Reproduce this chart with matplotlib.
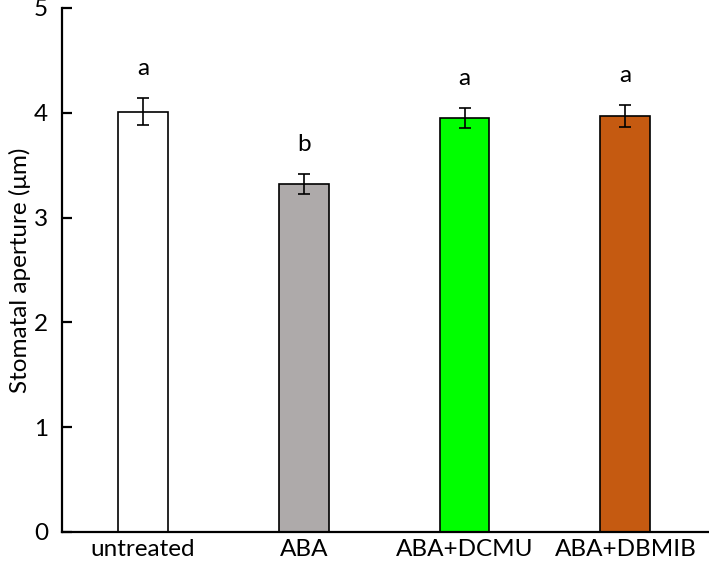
import matplotlib
matplotlib.use("Agg")
import matplotlib.pyplot as plt

categories = ["untreated", "ABA", "ABA+DCMU", "ABA+DBMIB"]
values = [4.01, 3.32, 3.95, 3.97]
errors = [0.13, 0.095, 0.095, 0.105]
letters = ["a", "b", "a", "a"]
colors = ["#FFFFFF", "#AEAAAA", "#00FF00", "#C55A11"]

plt.rcParams['font.family'] = ['Lato', 'DejaVu Sans']
FS = 17.5

fig = plt.figure(figsize=(7.09, 5.66), dpi=100)
ax = fig.add_axes([62/709, 1-532/566, 1-62/709, (532-8)/566])

x = list(range(len(categories)))
ax.bar(x, values, width=0.31, color=colors, edgecolor="black", linewidth=1.2, zorder=2)
ax.errorbar(x, values, yerr=errors, fmt="none", ecolor="black", elinewidth=1.2,
            capsize=4.5, capthick=1.2, zorder=3)
for xi, v, e, l in zip(x, values, errors, letters):
    ax.text(xi, v + e + 0.28, l, ha="center", va="center", fontsize=FS)

ax.set_xlim(-0.503, 3.52)
ax.set_ylim(0, 5)
ax.set_yticks([0, 1, 2, 3, 4, 5])
ax.set_xticks(x)
ax.set_xticklabels(categories, fontsize=FS)
ax.tick_params(axis="x", length=0, pad=5)
ax.tick_params(axis="y", direction="in", length=7, width=1.6, labelsize=FS, pad=10)
ax.set_ylabel("Stomatal aperture (μm)", fontsize=FS, labelpad=2)
for s in ["top", "right"]:
    ax.spines[s].set_visible(False)
for s in ["left", "bottom"]:
    ax.spines[s].set_linewidth(1.6)

fig.savefig("out.png", dpi=100)
